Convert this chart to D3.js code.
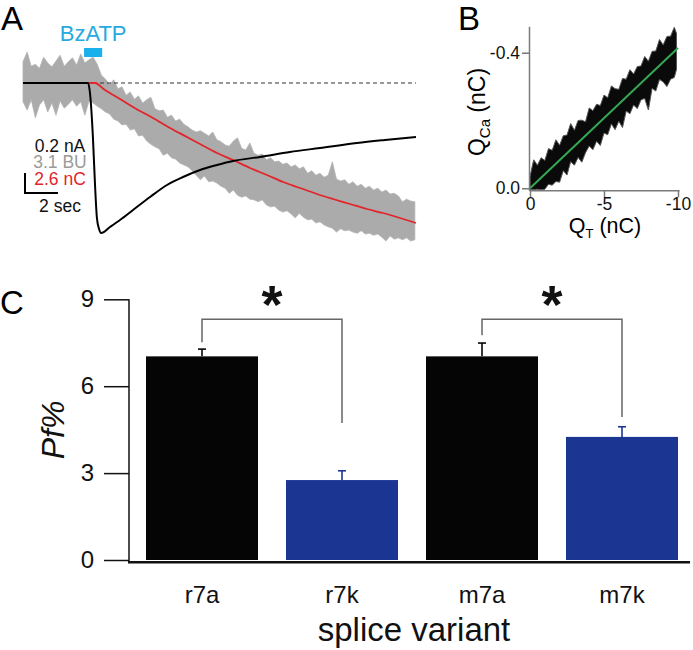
<!DOCTYPE html>
<html><head><meta charset="utf-8">
<script src="https://cdn.jsdelivr.net/npm/d3@7"></script>
<style>
body{margin:0;background:#fff}
svg{display:block;font-family:"Liberation Sans",Arial,Helvetica,sans-serif}
</style>
</head><body>
<svg id="fig" width="693" height="650"></svg>
<script>
// ---------------- Panel A data ----------------
const appTime = [3.7, 4.8];              // BzATP application (s)
const currentT  = [0,3.94,4.06,4.24,4.36,4.48,4.61,4.73,5.27,5.88,6.67,7.70,8.73,9.70,10.73,11.76,12.73,14.36,16.18,18.0,20.24,21.94,23.82];
const currentNA = [0,0,-0.10,-0.55,-1.00,-1.35,-1.46,-1.50,-1.44,-1.37,-1.27,-1.14,-1.02,-0.94,-0.87,-0.82,-0.78,-0.74,-0.69,-0.65,-0.60,-0.57,-0.54];
const chargeT  = [0,4.36,4.97,5.88,7.09,7.88,8.91,9.94,10.73,11.76,12.73,13.76,14.79,15.76,16.79,17.82,18.79,19.82,20.85,21.82,22.85,23.82];
const chargeNC = [0,0,-0.91,-2.08,-3.64,-4.55,-5.85,-7.02,-7.93,-9.10,-10.01,-11.05,-11.96,-12.87,-13.65,-14.43,-15.08,-15.73,-16.38,-16.90,-17.55,-18.2];
const flT = [0,0.25,0.5,0.75,1,1.25,1.5,1.75,2,2.25,2.5,2.75,3,3.25,3.5,3.75,4,4.25,4.5,4.75,5,5.25,5.5,5.75,6,6.25,6.5,6.75,7,7.25,7.5,7.75,8,8.25,8.5,8.75,9,9.25,9.5,9.75,10,10.25,10.5,10.75,11,11.25,11.5,11.75,12,12.25,12.5,12.75,13,13.25,13.5,13.75,14,14.25,14.5,14.75,15,15.25,15.5,15.75,16,16.25,16.5,16.75,17,17.25,17.5,17.75,18,18.25,18.5,18.75,19,19.25,19.5,19.75,20,20.25,20.5,20.75,21,21.25,21.5,21.75,22,22.25,22.5,22.75,23,23.25,23.5,23.75];
const flUpperBU = [3.3,4.8,2.6,2.9,2.3,4.0,3.1,2.5,3.4,4.3,2.6,3.3,3.9,2.8,4.5,3.1,3.6,4.0,2.9,1.2,0.6,-0.2,0.5,-0.9,-0.6,-1.9,-1.4,-2.5,-2.0,-3.1,-2.6,-2.2,-4.0,-4.3,-4.2,-5.3,-5.0,-5.9,-5.6,-6.4,-6.8,-7.3,-7.6,-7.4,-7.8,-8.2,-7.6,-8.8,-9.1,-9.6,-9.8,-9.0,-8.5,-10.1,-10.4,-9.3,-10.9,-11.2,-11.0,-11.9,-11.6,-12.2,-12.1,-12.6,-12.4,-13.0,-12.7,-13.3,-13.0,-14.0,-13.6,-14.3,-14.0,-14.6,-14.3,-12.2,-14.9,-15.2,-15.0,-15.7,-15.3,-16.0,-15.7,-16.3,-16.0,-16.6,-16.3,-16.9,-16.6,-17.2,-17.1,-17.5,-18.4,-18.0,-18.3,-18.4];
const flLowerBU = [-2.9,-4.2,-2.6,-5.4,-3.4,-2.6,-4.5,-3.1,-5.0,-2.8,-3.9,-3.3,-2.6,-3.6,-2.9,-5.0,-2.8,-3.1,-3.6,-4.0,-4.5,-4.8,-5.6,-5.9,-6.5,-6.4,-7.3,-7.1,-8.2,-8.1,-9.0,-9.5,-9.9,-10.2,-11.2,-10.9,-11.6,-11.8,-12.4,-12.7,-13.0,-13.6,-14.3,-15.0,-14.4,-15.3,-15.2,-15.5,-16.0,-16.3,-17.1,-16.6,-17.4,-17.7,-17.5,-18.0,-18.1,-18.4,-18.1,-18.9,-19.2,-19.1,-19.7,-20.0,-19.8,-20.3,-20.9,-20.2,-20.8,-21.2,-21.1,-21.7,-21.5,-22.0,-22.3,-22.5,-23.1,-22.6,-22.9,-22.8,-23.1,-23.3,-22.9,-23.4,-23.3,-23.6,-23.4,-23.9,-24.5,-23.7,-24.2,-24.0,-24.3,-24.0,-24.5,-24.3];
const scaleBarLabels = ["0.2 nA","3.1 BU","2.6 nC","2 sec"];

// ---------------- Panel B data ----------------
const qtSamples = [0,-0.25,-0.5,-0.75,-1,-1.25,-1.5,-1.75,-2,-2.25,-2.5,-2.75,-3,-3.25,-3.5,-3.75,-4,-4.25,-4.5,-4.75,-5,-5.25,-5.5,-5.75,-6,-6.25,-6.5,-6.75,-7,-7.25,-7.5,-7.75,-8,-8.25,-8.5,-8.75,-9,-9.25,-9.5,-9.75,-9.9];
const qcaUpper = [-0.035,-0.084,-0.068,-0.090,-0.082,-0.117,-0.112,-0.143,-0.127,-0.155,-0.157,-0.191,-0.171,-0.200,-0.201,-0.196,-0.237,-0.229,-0.248,-0.244,-0.275,-0.267,-0.302,-0.294,-0.292,-0.324,-0.322,-0.350,-0.337,-0.359,-0.361,-0.389,-0.375,-0.404,-0.405,-0.439,-0.423,-0.448,-0.449,-0.475,-0.457];
const qcaLower = [0.004,0.004,0.003,0.004,0.003,-0.012,-0.009,-0.020,-0.018,-0.052,-0.039,-0.079,-0.068,-0.091,-0.077,-0.105,-0.125,-0.114,-0.139,-0.126,-0.163,-0.158,-0.190,-0.173,-0.198,-0.179,-0.228,-0.220,-0.246,-0.235,-0.261,-0.265,-0.231,-0.295,-0.287,-0.321,-0.314,-0.300,-0.322,-0.327,-0.351];
const fitQT  = [0,-10];
const fitQCa = [0,-0.414];
const bTicksX = [0,-5,-10];
const bTicksY = [0,-0.4];

// ---------------- Panel C data ----------------
const variants = ["r7a","r7k","m7a","m7k"];
const pfMean = [7.03,2.76,7.03,4.25];
const pfSEM  = [0.25,0.32,0.46,0.35];
const barColors = ["#050505","#1b3593","#050505","#1b3593"];
const cTicks = [0,3,6,9];
const sigPairs = [
  {a:"r7a", b:"r7k", top:8.31, endA:7.52, endB:4.73},
  {a:"m7a", b:"m7k", top:8.31, endA:7.76, endB:4.94}
];

const svg = d3.select("#fig");
const FONT = '"Liberation Sans",Arial,Helvetica,sans-serif';

// panel letters
svg.append("text").attr("x",1).attr("y",30).attr("font-size",33).text("A");
svg.append("text").attr("x",458).attr("y",30).attr("font-size",33).text("B");
svg.append("text").attr("x",0).attr("y",314).attr("font-size",33).text("C");

// ================= Panel A =================
const xA = d3.scaleLinear().domain([0,23.82]).range([23,416]);
const yI = d3.scaleLinear().domain([0,-1.5]).range([83,233]);   // 0.2 nA = 20 px
const yQ = d3.scaleLinear().domain([0,-2.6]).range([83,103]);   // 2.6 nC = 20 px
const yF = d3.scaleLinear().domain([0,-3.1]).range([83,103]);   // 3.1 BU = 20 px
const gA = svg.append("g");

// gray fluorescence trace (min/max envelope of the noisy record)
const nF = Math.min(flT.length, flUpperBU.length, flLowerBU.length);
const flData = d3.range(nF).map(i => ({t:flT[i], hi:flUpperBU[i], lo:flLowerBU[i]}));
gA.append("path").datum(flData)
  .attr("d", d3.area().x(d=>xA(d.t)).y0(d=>yF(d.lo)).y1(d=>yF(d.hi)))
  .attr("fill","#ababab").attr("stroke","#b4b4b4").attr("stroke-width",0.8);

// dashed baseline
gA.append("line").attr("x1",xA(0)).attr("x2",xA(23.82)).attr("y1",yI(0)).attr("y2",yI(0))
  .attr("stroke","#333").attr("stroke-width",1).attr("stroke-dasharray","4,3");

// red charge
gA.append("path").datum(chargeT.map((t,i)=>[t,chargeNC[i]]))
  .attr("d", d3.line().x(d=>xA(d[0])).y(d=>yQ(d[1])).curve(d3.curveMonotoneX))
  .attr("fill","none").attr("stroke","#e3242b").attr("stroke-width",1.8);

// black current
gA.append("path").datum(currentT.map((t,i)=>[t,currentNA[i]]))
  .attr("d", d3.line().x(d=>xA(d[0])).y(d=>yI(d[1])).curve(d3.curveMonotoneX))
  .attr("fill","none").attr("stroke","#000").attr("stroke-width",2);

// BzATP bar and label
gA.append("rect").attr("x",xA(appTime[0])).attr("width",xA(appTime[1])-xA(appTime[0]))
  .attr("y",48).attr("height",9).attr("fill","#1ab0ec");
gA.append("text").attr("x",(xA(appTime[0])+xA(appTime[1]))/2).attr("y",41)
  .attr("text-anchor","middle").attr("font-size",22).attr("fill","#29a9e1").text("BzATP");

// scale bars
const sbX = 25, sbY = 193;
gA.append("path")
  .attr("d",`M${sbX},${sbY-(yI(-0.2)-yI(0))}V${sbY}H${sbX+xA(2)-xA(0)}`)
  .attr("fill","none").attr("stroke","#000").attr("stroke-width",2);
const sbColors = ["#111","#9a9a9a","#e3242b","#111"];
const sbY0 = [152,168,185,212];
scaleBarLabels.forEach((s,i)=>{
  gA.append("text").attr("x",60).attr("y",sbY0[i]).attr("text-anchor","middle")
    .attr("font-size",17.5).attr("fill",sbColors[i]).text(s);
});

// ================= Panel B =================
const xB = d3.scaleLinear().domain([0.068,-10.068]).range([529,679]);
const yB = d3.scaleLinear().domain([0.006,-0.478]).range([190.3,26.3]);
const gB = svg.append("g");
const bandData = qtSamples.map((q,i)=>({q, hi:qcaUpper[i], lo:qcaLower[i]}));
gB.append("path").datum(bandData)
  .attr("d", d3.area().x(d=>xB(d.q)).y0(d=>yB(d.lo)).y1(d=>yB(d.hi)))
  .attr("fill","#0a0a0a").attr("stroke","#555").attr("stroke-width",1);
gB.append("path").datum(fitQT.map((q,i)=>[q,fitQCa[i]]))
  .attr("d", d3.line().x(d=>xB(d[0])).y(d=>yB(d[1])))
  .attr("stroke","#34a853").attr("stroke-width",2).attr("fill","none");

const axYB = gB.append("g").attr("transform","translate(529,0)")
  .call(d3.axisLeft(yB).tickValues(bTicksY).tickSize(7).tickSizeOuter(0).tickPadding(2)
        .tickFormat(d=> d===0 ? "0.0" : d.toFixed(1)));
const axXB = gB.append("g").attr("transform","translate(0,190.3)")
  .call(d3.axisBottom(xB).tickValues(bTicksX).tickSize(7).tickSizeOuter(0).tickPadding(0)
        .tickFormat(d=>String(d)));
[axYB, axXB].forEach(a=>{
  a.selectAll("path,line").attr("stroke","#7a7a7a").attr("stroke-width",1.5);
  a.selectAll("text").attr("font-family",FONT).attr("font-size",17.5).attr("fill","#111");
});
// axis titles
const qt = gB.append("text").attr("x",605).attr("y",233).attr("text-anchor","middle").attr("font-size",21.5);
qt.append("tspan").text("Q");
qt.append("tspan").attr("font-size",13).attr("dy",5).text("T");
qt.append("tspan").attr("dy",-5).text(" (nC)");
const qc = gB.append("text").attr("transform","translate(485,112) rotate(-90)").attr("text-anchor","middle").attr("font-size",23);
qc.append("tspan").text("Q");
qc.append("tspan").attr("font-size",15).attr("dy",5).text("Ca");
qc.append("tspan").attr("dy",-5).text(" (nC)");

// ================= Panel C =================
const xC = d3.scaleBand().domain(variants).range([132,692]).paddingInner(0.2).paddingOuter(0.1);
const yC = d3.scaleLinear().domain([0,9]).range([560,299.3]);
const gC = svg.append("g");
const cData = variants.map((v,i)=>({v, m:pfMean[i], e:pfSEM[i], c:barColors[i]}));

// error bars (upward only)
cData.forEach(d=>{
  const cx = xC(d.v)+xC.bandwidth()/2;
  gC.append("line").attr("x1",cx).attr("x2",cx).attr("y1",yC(d.m)).attr("y2",yC(d.m+d.e))
    .attr("stroke",d.c).attr("stroke-width",1.6);
  gC.append("line").attr("x1",cx-4).attr("x2",cx+4).attr("y1",yC(d.m+d.e)).attr("y2",yC(d.m+d.e))
    .attr("stroke",d.c).attr("stroke-width",1.6);
});
gC.selectAll("rect.bar").data(cData).join("rect").attr("class","bar")
  .attr("x",d=>xC(d.v)).attr("width",xC.bandwidth())
  .attr("y",d=>yC(d.m)).attr("height",d=>yC(0)-yC(d.m)).attr("fill",d=>d.c);

// y axis
const axYC = gC.append("g").attr("transform","translate(129,0)")
  .call(d3.axisLeft(yC).tickValues(cTicks).tickSize(25).tickSizeOuter(0).tickPadding(10));
axYC.select(".domain").remove();
axYC.selectAll("line").attr("stroke","#111").attr("stroke-width",1.5);
axYC.selectAll("text").attr("font-family",FONT).attr("font-size",24).attr("fill","#111");
gC.append("line").attr("x1",129).attr("x2",129).attr("y1",yC(9)).attr("y2",yC(0)+3)
  .attr("stroke","#111").attr("stroke-width",1.5);
// x axis line
gC.append("line").attr("x1",128).attr("x2",690).attr("y1",yC(0)+2.2).attr("y2",yC(0)+2.2)
  .attr("stroke","#111").attr("stroke-width",2.5);
// category labels
gC.selectAll("text.cat").data(variants).join("text").attr("class","cat")
  .attr("x",d=>xC(d)+xC.bandwidth()/2).attr("y",603).attr("text-anchor","middle")
  .attr("font-size",24).attr("fill","#111").text(d=>d);
gC.append("text").attr("x",414).attr("y",641).attr("text-anchor","middle")
  .attr("font-size",33).attr("fill","#111").text("splice variant");
gC.append("text").attr("transform","translate(64,430) rotate(-90)").attr("text-anchor","middle")
  .attr("font-size",32).attr("font-style","italic").attr("fill","#111").text("Pf%");

// significance brackets
sigPairs.forEach(p=>{
  const xa = xC(p.a)+xC.bandwidth()/2, xb = xC(p.b)+xC.bandwidth()/2;
  gC.append("path").attr("d",`M${xa},${yC(p.endA)}V${yC(p.top)}H${xb}V${yC(p.endB)}`)
    .attr("fill","none").attr("stroke","#666").attr("stroke-width",1.5);
  gC.append("text").attr("x",(xa+xb)/2).attr("y",yC(p.top)+4).attr("text-anchor","middle")
    .attr("font-size",54).attr("font-weight","bold").attr("fill","#111").text("*");
});
</script>
</body></html>
